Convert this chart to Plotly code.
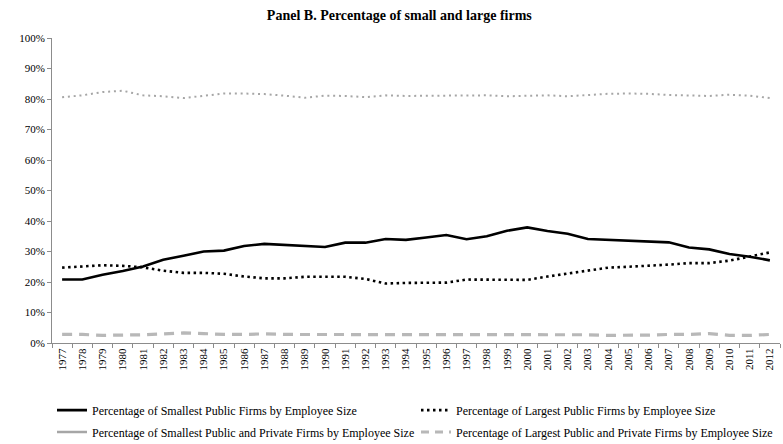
import plotly.graph_objects as go

years = [str(y) for y in range(1977, 2013)]

smallest_public = [20.8, 20.8, 22.4, 23.6, 25.1, 27.3, 28.6, 30.0, 30.3, 31.8,
                   32.5, 32.2, 31.8, 31.5, 32.9, 32.9, 34.1, 33.8, 34.6, 35.4,
                   34.0, 35.0, 36.8, 37.9, 36.7, 35.8, 34.1, 33.8, 33.6, 33.4,
                   33.0, 31.3, 30.7, 29.2, 28.3, 27.1]

largest_public = [24.7, 25.2, 25.5, 25.3, 24.8, 23.7, 23.0, 23.0, 22.7, 21.8,
                  21.2, 21.2, 21.7, 21.7, 21.7, 21.0, 19.5, 19.7, 19.7, 19.8,
                  20.8, 20.7, 20.8, 20.7, 21.8, 22.8, 23.8, 24.7, 25.0, 25.3,
                  25.7, 26.2, 26.2, 27.0, 28.4, 29.7]

smallest_all = [80.6, 81.2, 82.3, 82.7, 81.2, 80.9, 80.3, 81.1, 81.8, 81.8,
                81.6, 81.1, 80.4, 81.1, 81.0, 80.6, 81.2, 81.0, 81.0, 81.0,
                81.1, 81.2, 80.9, 81.0, 81.2, 80.9, 81.4, 81.7, 81.8, 81.7,
                81.3, 81.1, 81.0, 81.4, 81.1, 80.3]

largest_all = [2.8, 2.8, 2.5, 2.5, 2.7, 3.0, 3.3, 3.1, 2.8, 2.8,
               3.0, 2.8, 2.8, 2.8, 2.8, 2.8, 2.8, 2.8, 2.8, 2.8,
               2.8, 2.8, 2.8, 2.8, 2.8, 2.8, 2.7, 2.5, 2.5, 2.6,
               2.8, 2.8, 3.1, 2.5, 2.5, 2.8]

names = ["Percentage of Smallest Public Firms by Employee Size",
         "Percentage of Largest Public Firms by Employee Size",
         "Percentage of Smallest Public and Private Firms by Employee Size",
         "Percentage of Largest Public and Private Firms by Employee Size"]

title_text = "Panel B. Percentage of small and large firms"

FONT = "Liberation Serif"
GRAY_LINE = "#a6a6a6"
GRAY_DASH = "#b8b8b8"
AXIS = "#8c8c8c"

fig = go.Figure()

# data traces (not in legend)
fig.add_trace(go.Scatter(x=years, y=smallest_public, mode="lines", showlegend=False,
                         line=dict(color="black", width=2.6)))
fig.add_trace(go.Scatter(x=years, y=largest_public, mode="lines", showlegend=False,
                         line=dict(color="black", width=2.6, dash="2.5px,3.5px")))
fig.add_trace(go.Scatter(x=years, y=smallest_all, mode="lines", showlegend=False,
                         line=dict(color=GRAY_LINE, width=2, dash="2px,3.8px")))
fig.add_trace(go.Scatter(x=years, y=largest_all, mode="lines", showlegend=False,
                         line=dict(color=GRAY_DASH, width=3.2, dash="10px,7px")))

# legend entries (styled as in the original legend)
fig.add_trace(go.Scatter(x=[None], y=[None], mode="lines", name=names[0], legend="legend",
                         line=dict(color="black", width=2.6)))
fig.add_trace(go.Scatter(x=[None], y=[None], mode="lines", name=names[1], legend="legend",
                         line=dict(color="black", width=2.6, dash="2.5px,3.5px")))
fig.add_trace(go.Scatter(x=[None], y=[None], mode="lines", name=names[2], legend="legend2",
                         line=dict(color=GRAY_LINE, width=2.6)))
fig.add_trace(go.Scatter(x=[None], y=[None], mode="lines", name=names[3], legend="legend2",
                         line=dict(color=GRAY_DASH, width=3, dash="8px,6px")))

leg_common = dict(orientation="h", xanchor="left", yanchor="middle", x=0.0,
                  entrywidth=319, entrywidthmode="pixels", itemwidth=30,
                  font=dict(family=FONT, size=12, color="black"),
                  bgcolor="rgba(0,0,0,0)", borderwidth=0, tracegroupgap=0)

fig.update_layout(
    width=783, height=444,
    margin=dict(l=52, r=3, t=38, b=101, autoexpand=False),
    paper_bgcolor="white", plot_bgcolor="white",
    font=dict(family=FONT, size=11, color="black"),
    title=dict(text="<b>" + title_text + "</b>", x=0.51, xanchor="center",
               y=1 - 15 / 444, yanchor="middle",
               font=dict(family=FONT, size=14, color="black")),
    legend=dict(**leg_common, y=-0.22),
    legend2=dict(**leg_common, y=-0.292),
    xaxis=dict(type="category", range=[-0.5, 35.5], tickangle=-90,
               showline=True, linecolor=AXIS, linewidth=1,
               ticks="outside", tickson="boundaries", ticklen=4, tickcolor=AXIS,
               showgrid=False, zeroline=False,
               tickfont=dict(family=FONT, size=11, color="black")),
    yaxis=dict(range=[0, 100], dtick=10, ticksuffix="%",
               showline=True, linecolor=AXIS, linewidth=1,
               ticks="outside", ticklen=4, tickcolor=AXIS,
               showgrid=False, zeroline=False,
               tickfont=dict(family=FONT, size=11, color="black")),
)

fig.write_html("out.html", config={"displayModeBar": False},
               post_script="document.body.style.margin='0';document.body.style.overflow='hidden';")
